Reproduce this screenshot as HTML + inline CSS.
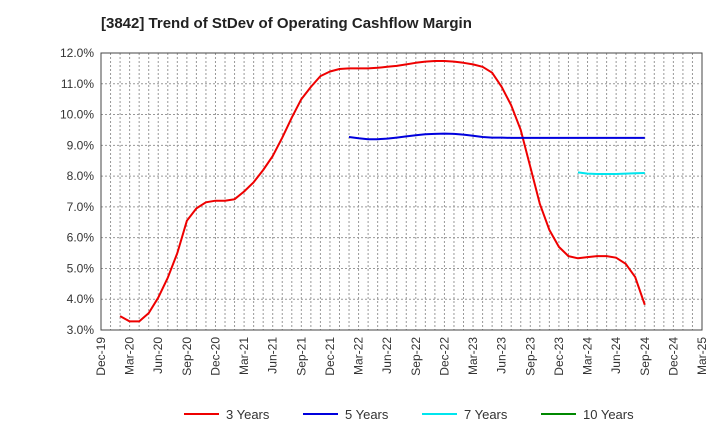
<!DOCTYPE html>
<html><head><meta charset="utf-8"><style>
body{margin:0;background:#fff;width:720px;height:440px;overflow:hidden;font-family:"Liberation Sans",sans-serif}
</style></head><body>
<svg id="c" width="720" height="440" xmlns="http://www.w3.org/2000/svg">
<text x="101" y="28" font-size="15" font-weight="bold" fill="#222">[3842]  Trend of StDev of Operating Cashflow Margin</text>
<g id="grid"></g><g id="series"></g><g id="axes"></g><g id="legend"></g>
</svg>
<script>
const xLabels=["Dec-19","Mar-20","Jun-20","Sep-20","Dec-20","Mar-21","Jun-21","Sep-21","Dec-21","Mar-22","Jun-22","Sep-22","Dec-22","Mar-23","Jun-23","Sep-23","Dec-23","Mar-24","Jun-24","Sep-24","Dec-24","Mar-25"];
const yTicks=[3,4,5,6,7,8,9,10,11,12];
const start3=2;
const s3=[3.45,3.28,3.28,3.55,4.05,4.7,5.5,6.55,6.95,7.15,7.2,7.2,7.25,7.5,7.8,8.2,8.65,9.25,9.9,10.5,10.9,11.25,11.4,11.48,11.5,11.5,11.5,11.52,11.55,11.58,11.63,11.68,11.72,11.74,11.74,11.72,11.68,11.63,11.55,11.36,10.9,10.3,9.5,8.3,7.1,6.25,5.7,5.4,5.33,5.37,5.4,5.4,5.35,5.15,4.72,3.82];
const start5=26;
const s5=[9.27,9.23,9.2,9.2,9.22,9.25,9.29,9.33,9.36,9.37,9.38,9.37,9.35,9.31,9.27,9.25,9.25,9.24,9.24,9.24,9.24,9.24,9.24,9.24,9.24,9.24,9.24,9.24,9.24,9.24,9.24,9.24];
const start7=50;
const s7=[8.12,8.08,8.07,8.07,8.07,8.08,8.09,8.1];
const s10=[];
const L=101,R=702,T=53,B=330,NM=63;
const x=m=>L+(R-L)*m/NM, y=v=>B-(B-T)*(v-3)/9;
const NS="http://www.w3.org/2000/svg";
function mk(p,t,a){const e=document.createElementNS(NS,t);for(const k in a)e.setAttribute(k,a[k]);document.getElementById(p).appendChild(e);return e;}
for(let m=1;m<NM;m++){const l=mk('grid','line',{x1:x(m),x2:x(m),y1:T,y2:B,stroke:'#999','stroke-dasharray':'2,2','stroke-width':1});

}
yTicks.forEach(v=>{if(v>3&&v<12){const l=mk('grid','line',{x1:L,x2:R,y1:y(v),y2:y(v),stroke:'#999','stroke-dasharray':'2,2'});

}
const t=mk('axes','text',{x:94,y:y(v)+4,'text-anchor':'end','font-size':12,fill:'#333'});t.textContent=v.toFixed(1)+'%';

});
const fr=mk('axes','rect',{x:L,y:T,width:R-L,height:B-T,fill:'none',stroke:'#444','stroke-width':1});


xLabels.forEach((s,i)=>{const xx=x(i*3);const t=mk('axes','text',{x:0,y:0,'text-anchor':'end','font-size':12,fill:'#333',transform:`translate(${xx+4},${B+7}) rotate(-90)`});t.textContent=s;

});
function line(d,st,col,name){if(!d.length)return;const p=d.map((v,i)=>x(st+i).toFixed(1)+','+y(v).toFixed(1)).join(' ');
const e=mk('series','polyline',{points:p,fill:'none',stroke:col,'stroke-width':2,'stroke-linejoin':'round'});

}
line(s3,start3,'#ee0000','line-3-years');
line(s5,start5,'#0000dd','line-5-years');
line(s7,start7,'#00e5ee','line-7-years');
line(s10,0,'#008800','line-10-years');
const lg=[["3 Years","#ee0000",184],["5 Years","#0000dd",303],["7 Years","#00e5ee",422],["10 Years","#008800",541]];
lg.forEach(([n,c,lx])=>{const g=mk('legend','g',{});


const l=document.createElementNS(NS,'line');l.setAttribute('x1',lx);l.setAttribute('x2',lx+35);l.setAttribute('y1',414);l.setAttribute('y2',414);l.setAttribute('stroke',c);l.setAttribute('stroke-width',2);g.appendChild(l);
const t=document.createElementNS(NS,'text');t.setAttribute('x',lx+42);t.setAttribute('y',419);t.setAttribute('font-size',13);t.setAttribute('fill','#333');t.textContent=n;g.appendChild(t);});
</script>
</body></html>
